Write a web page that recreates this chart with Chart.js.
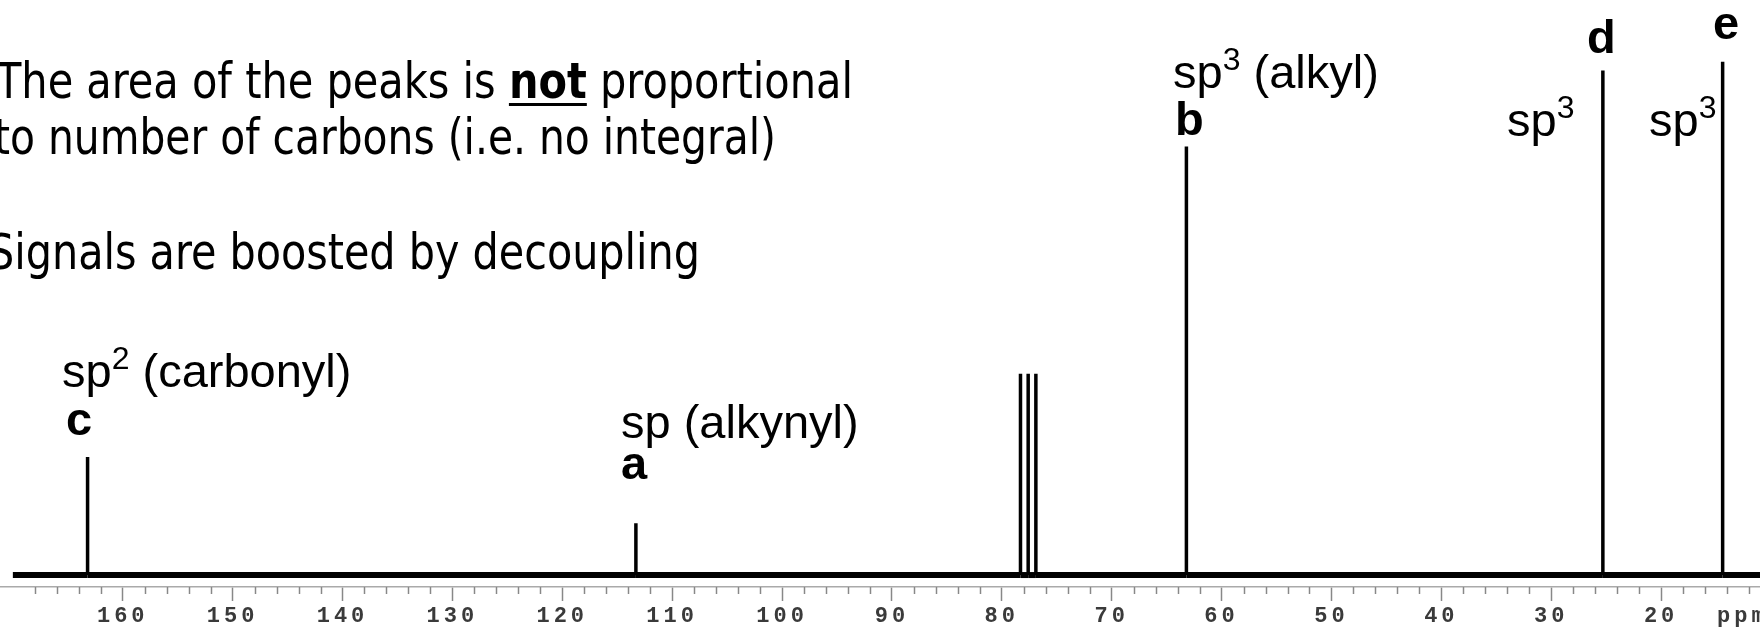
<!DOCTYPE html>
<html>
<head>
<meta charset="utf-8">
<script src="https://cdn.jsdelivr.net/npm/chart.js@4.4.1/dist/chart.umd.min.js"></script>
<style>
  html, body { margin: 0; padding: 0; background: #fff; overflow: hidden; }
  #wrap { position: relative; width: 1760px; height: 631px; }
  #chart { position: absolute; left: 0; top: 0; }
  .para {
    position: absolute; white-space: nowrap; line-height: 1;
    font-family: "DejaVu Sans Condensed", "DejaVu Sans", sans-serif;
    font-stretch: condensed; font-size: 50px; color: #000;
    transform-origin: 0 0;
  }
  .para u { text-decoration-thickness: 3px; text-underline-offset: 5px; }
  .lab {
    position: absolute; white-space: nowrap; line-height: 1;
    font-family: "Liberation Sans", Arial, sans-serif; font-size: 47px; color: #000;
  }
  .lab sup { font-size: 32px; line-height: 0; vertical-align: 18px; }
  .lab.bold { font-weight: bold; }
</style>
</head>
<body>
<div id="wrap">
  <canvas id="chart" width="1760" height="631"></canvas>

  <div class="para" data-left="-4" data-right="853" style="top:56px">The area of the peaks is <b><u>not</u></b> proportional</div>
  <div class="para" data-left="-6" data-right="776" style="top:112px">to number of carbons (i.e. no integral)</div>
  <div class="para" data-left="-12" data-right="700" style="top:227px">Signals are boosted by decoupling</div>

  <div class="lab" style="left:62px;top:347px">sp<sup>2</sup>&nbsp;(carbonyl)</div>
  <div class="lab bold" style="left:66px;top:395px">c</div>
  <div class="lab" style="left:621px;top:398px">sp (alkynyl)</div>
  <div class="lab bold" style="left:621px;top:439px">a</div>
  <div class="lab" style="left:1173px;top:48px">sp<sup>3</sup> (alkyl)</div>
  <div class="lab bold" style="left:1175px;top:95px">b</div>
  <div class="lab" style="left:1507px;top:96px">sp<sup>3</sup></div>
  <div class="lab bold" style="left:1587px;top:13px">d</div>
  <div class="lab" style="left:1649px;top:96px">sp<sup>3</sup></div>
  <div class="lab bold" style="left:1713px;top:-1px">e</div>
</div>

<script>
// 13C spectrum: chemical shifts (ppm) and relative peak heights (tallest = 100)
const ppmTicks = [160, 150, 140, 130, 120, 110, 100, 90, 80, 70, 60, 50, 40, 30, 20];
const peakPpm = [163.2, 113.3, 78.3, 77.6, 76.9, 63.2, 25.3, 14.4];
const peakHeight = [23.0, 10.1, 39.2, 39.2, 39.2, 83.5, 98.3, 100];
const spectrumStart = 170;
const spectrumEnd = 11;

// baseline plus one spike per peak
const points = [{ x: spectrumStart, y: 0 }];
peakPpm.forEach((p, i) => {
    points.push({ x: p, y: 0 }, { x: p, y: peakHeight[i] }, { x: p, y: 0 });
});
points.push({ x: spectrumEnd, y: 0 });

const TICK_LEN = 14;
const TICK_PAD = 4;
const TICK_FONT = 22;

// minor ticks every 2 ppm and the "ppm" unit label
const axisExtras = {
    id: 'axisExtras',
    beforeDraw(chart) {
        chart.ctx.letterSpacing = '4px';
    },
    afterDraw(chart) {
        const xs = chart.scales.x;
        const ctx = chart.ctx;
        ctx.save();
        ctx.strokeStyle = '#888';
        ctx.lineWidth = 1.5;
        for (let v = 168; v > spectrumEnd; v -= 2) {
            if (v % 10 === 0) continue;
            const px = Math.round(xs.getPixelForValue(v)) + 0.5;
            ctx.beginPath();
            ctx.moveTo(px, xs.top);
            ctx.lineTo(px, xs.top + 7);
            ctx.stroke();
        }
        ctx.fillStyle = '#3a3a3a';
        ctx.font = `bold ${TICK_FONT}px "Liberation Mono", monospace`;
        ctx.textAlign = 'left';
        ctx.textBaseline = 'middle';
        ctx.fillText('ppm', 1717, xs.top + TICK_LEN + TICK_PAD + TICK_FONT / 2);
        ctx.restore();
    }
};

new Chart(document.getElementById('chart'), {
    type: 'line',
    data: {
        datasets: [{
            data: points,
            borderColor: '#000',
            borderWidth: 3.5,
            borderCapStyle: 'butt',
            pointRadius: 0,
            tension: 0,
            segment: {
                borderWidth: c => (c.p0.parsed.y === 0 && c.p1.parsed.y === 0) ? 6 : 3.5
            }
        }]
    },
    options: {
        responsive: false,
        animation: false,
        layout: { padding: 0 },
        plugins: { legend: { display: false }, tooltip: { enabled: false } },
        scales: {
            x: {
                type: 'linear',
                reverse: true,
                min: 11.0,
                max: 171.17,
                afterBuildTicks: s => { s.ticks = ppmTicks.map(v => ({ value: v })); },
                grid: { drawOnChartArea: false, drawTicks: true, tickLength: TICK_LEN, tickColor: '#888', tickWidth: 1.5 },
                border: { display: true, color: '#aaa', width: 1.5 },
                ticks: {
                    autoSkip: false, maxRotation: 0, padding: TICK_PAD, color: '#3a3a3a',
                    font: { family: 'Liberation Mono', size: TICK_FONT, weight: 'bold', lineHeight: 1 }
                }
            },
            y: { display: false, min: -2.33, max: 112.04 }
        }
    },
    plugins: [axisExtras]
});

// squeeze each note line horizontally to the span it covers on the slide
document.querySelectorAll('.para').forEach(el => {
    const w = el.getBoundingClientRect().width;
    const left = +el.dataset.left;
    el.style.left = left + 'px';
    el.style.transform = `scaleX(${(+el.dataset.right - left) / w})`;
});
</script>
</body>
</html>
